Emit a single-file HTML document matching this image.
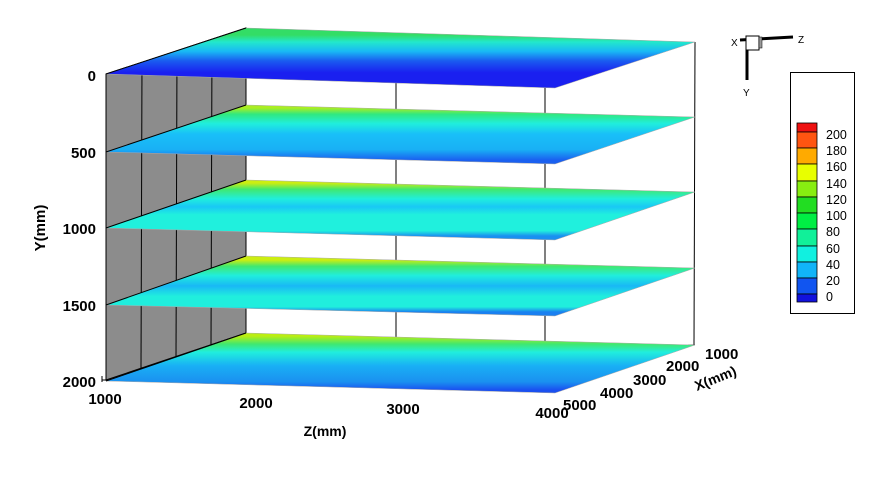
<!DOCTYPE html>
<html><head><meta charset="utf-8"><style>
html,body{margin:0;padding:0;background:#fff;}
svg{display:block;font-family:"Liberation Sans",Arial,sans-serif;}
.b{font-weight:bold;font-size:15px;fill:#000;}
.l{font-size:12.5px;fill:#000;}
</style></head><body>
<svg width="892" height="478" viewBox="0 0 892 478" xmlns="http://www.w3.org/2000/svg">
<defs>
<linearGradient id="gt" gradientUnits="userSpaceOnUse" x1="400" y1="35" x2="400" y2="82">
<stop offset="0" stop-color="#33dd66"/><stop offset="0.15" stop-color="#22e8cc"/><stop offset="0.35" stop-color="#19b8f5"/><stop offset="0.55" stop-color="#1a5cf0"/><stop offset="0.8" stop-color="#1a20f0"/><stop offset="1" stop-color="#1a20f0"/>
</linearGradient>
<linearGradient id="g1" gradientUnits="userSpaceOnUse" x1="400" y1="108" x2="400" y2="160">
<stop offset="0" stop-color="#aaee22"/><stop offset="0.12" stop-color="#30e880"/><stop offset="0.3" stop-color="#20eedd"/><stop offset="0.5" stop-color="#19c0f8"/><stop offset="0.8" stop-color="#19b0f5"/><stop offset="1" stop-color="#1a60f0"/>
</linearGradient>
<linearGradient id="g2" gradientUnits="userSpaceOnUse" x1="400" y1="183" x2="400" y2="236">
<stop offset="0" stop-color="#ccee11"/><stop offset="0.12" stop-color="#40e870"/><stop offset="0.3" stop-color="#20eedd"/><stop offset="0.45" stop-color="#19c8f5"/><stop offset="0.6" stop-color="#20f0dd"/><stop offset="0.9" stop-color="#20f0dd"/><stop offset="1" stop-color="#1a90f0"/>
</linearGradient>
<linearGradient id="g3" gradientUnits="userSpaceOnUse" x1="400" y1="260" x2="400" y2="312">
<stop offset="0" stop-color="#ccee11"/><stop offset="0.12" stop-color="#40e870"/><stop offset="0.3" stop-color="#20eedd"/><stop offset="0.5" stop-color="#19b8f5"/><stop offset="0.7" stop-color="#20eedd"/><stop offset="0.9" stop-color="#20eedd"/><stop offset="1" stop-color="#1a80f0"/>
</linearGradient>
<linearGradient id="g4" gradientUnits="userSpaceOnUse" x1="400" y1="336" x2="400" y2="390">
<stop offset="0" stop-color="#bbee11"/><stop offset="0.15" stop-color="#40e870"/><stop offset="0.3" stop-color="#20eedd"/><stop offset="0.55" stop-color="#19b0f5"/><stop offset="0.85" stop-color="#1a90f0"/><stop offset="1" stop-color="#1a50f0"/>
</linearGradient>
</defs>
<!-- gray wall -->
<polygon points="106,74 246,28 246,333 106,380" fill="#8c8c8c" stroke="#000" stroke-width="1"/>
<g stroke="#000" stroke-width="1">
<line x1="142" y1="62" x2="141" y2="368"/>
<line x1="177" y1="51" x2="176" y2="357"/>
<line x1="212" y1="40" x2="211" y2="345"/>
<line x1="396" y1="33" x2="396" y2="338"/>
<line x1="545" y1="38" x2="545" y2="342"/>
<line x1="695" y1="42" x2="694" y2="345"/>
<line x1="106" y1="74" x2="106" y2="380"/>
</g>
<g stroke="#000" stroke-width="1">
<line x1="102" y1="380" x2="106" y2="380"/><line x1="102" y1="376" x2="102" y2="382"/>
<line x1="688" y1="345" x2="695" y2="345"/>
</g>
<!-- slabs -->
<polygon points="106,74 246,28 695,42 555,88" fill="url(#gt)" stroke="#aaa" stroke-width="0.5"/>
<polygon points="106,152 246,105 695,117 555,164" fill="url(#g1)" stroke="#aaa" stroke-width="0.5"/>
<polygon points="106,228 246,180 695,192 555,240" fill="url(#g2)" stroke="#aaa" stroke-width="0.5"/>
<polygon points="106,305 246,256 695,268 555,316" fill="url(#g3)" stroke="#aaa" stroke-width="0.5"/>
<polygon points="106,381 246,333 695,345 555,393" fill="url(#g4)" stroke="#aaa" stroke-width="0.5"/>
<line x1="106" y1="74" x2="246" y2="28" stroke="#000"/>
<line x1="106" y1="152" x2="246" y2="105" stroke="#000"/>
<line x1="106" y1="228" x2="246" y2="180" stroke="#000"/>
<line x1="106" y1="305" x2="246" y2="256" stroke="#000"/>
<line x1="106" y1="381" x2="246" y2="333" stroke="#000"/>
<!-- Y labels -->
<g class="b" text-anchor="end">
<text x="96" y="81">0</text>
<text x="96" y="158">500</text>
<text x="96" y="234">1000</text>
<text x="96" y="311">1500</text>
<text x="96" y="387">2000</text>
</g>
<text class="b" transform="translate(45,228) rotate(-90)" text-anchor="middle">Y(mm)</text>
<!-- Z labels -->
<g class="b" text-anchor="middle">
<text x="105" y="404">1000</text>
<text x="256" y="408">2000</text>
<text x="403" y="414">3000</text>
<text x="552" y="418">4000</text>
<text x="325" y="436" font-size="14">Z(mm)</text>
</g>
<!-- X labels -->
<g class="b">
<text x="705" y="359">1000</text>
<text x="666" y="371">2000</text>
<text x="633" y="385">3000</text>
<text x="600" y="398">4000</text>
<text x="563" y="410">5000</text>
<text transform="translate(697,391) rotate(-22)" font-size="14">X(mm)</text>
</g>
<!-- triad -->
<g stroke="#000" stroke-width="3">
<line x1="740" y1="40" x2="793" y2="37"/>
<line x1="747" y1="42" x2="747" y2="80"/>
</g>
<rect x="746" y="36" width="13" height="14" fill="#fff" stroke="#000" stroke-width="1"/>
<rect x="759" y="37" width="3" height="11" fill="#999" stroke="#000" stroke-width="0.5"/>
<text x="731" y="46" font-size="10">X</text>
<text x="798" y="43" font-size="10">Z</text>
<text x="743" y="96" font-size="10">Y</text>
<!-- legend -->
<rect x="790.5" y="72.5" width="64" height="241" fill="#fff" stroke="#000"/>
<g stroke="#000" stroke-width="0.8">
<rect x="797" y="123" width="20" height="9" fill="#ee1111"/>
<rect x="797" y="132" width="20" height="16" fill="#ff5511"/>
<rect x="797" y="148" width="20" height="16" fill="#ffaa00"/>
<rect x="797" y="164" width="20" height="17" fill="#e8ff00"/>
<rect x="797" y="181" width="20" height="16" fill="#88ee11"/>
<rect x="797" y="197" width="20" height="16" fill="#22dd22"/>
<rect x="797" y="213" width="20" height="16" fill="#00ee44"/>
<rect x="797" y="229" width="20" height="17" fill="#11f099"/>
<rect x="797" y="246" width="20" height="16" fill="#11f0e0"/>
<rect x="797" y="262" width="20" height="16" fill="#11b4f8"/>
<rect x="797" y="278" width="20" height="16" fill="#1155f0"/>
<rect x="797" y="294" width="20" height="8" fill="#1111dd"/>
</g>
<g class="l">
<text x="826" y="139">200</text>
<text x="826" y="155">180</text>
<text x="826" y="171">160</text>
<text x="826" y="188">140</text>
<text x="826" y="204">120</text>
<text x="826" y="220">100</text>
<text x="826" y="236">80</text>
<text x="826" y="253">60</text>
<text x="826" y="269">40</text>
<text x="826" y="285">20</text>
<text x="826" y="301">0</text>
</g>
</svg>
</body></html>
